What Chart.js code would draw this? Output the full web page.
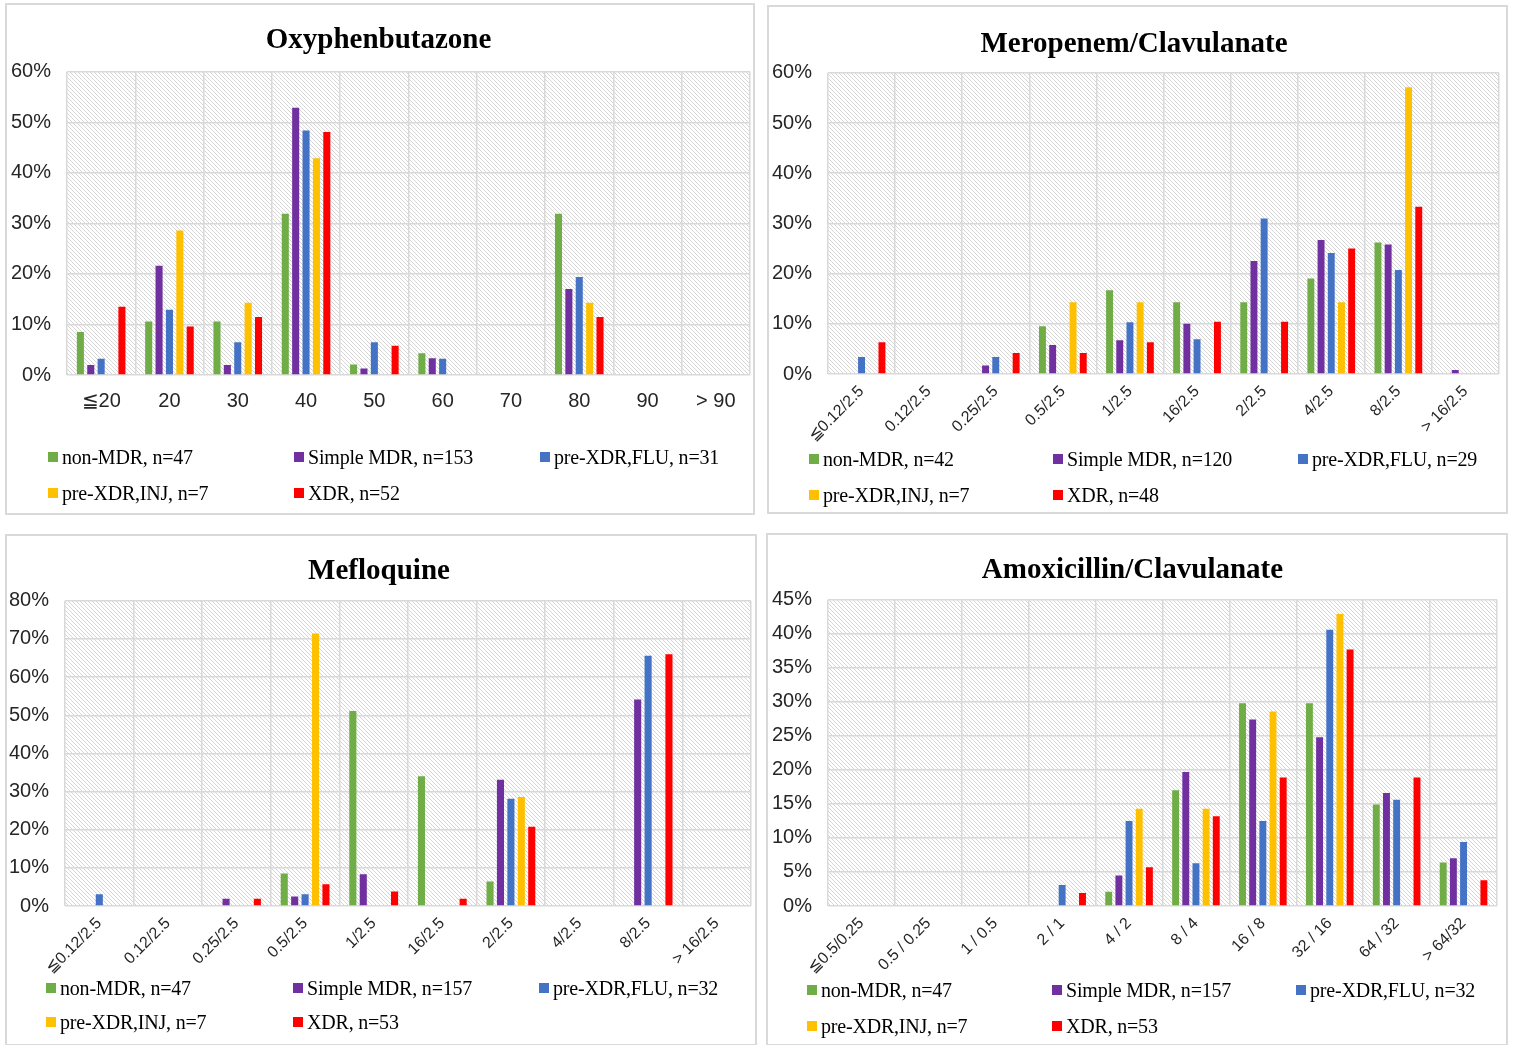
<!DOCTYPE html>
<html>
<head>
<meta charset="utf-8">
<script src="https://cdn.jsdelivr.net/npm/chart.js@4.4.1/dist/chart.umd.min.js"></script>
<style>
  html, body { margin: 0; padding: 0; background: #fff; }
  body { width: 1515px; height: 1045px; position: relative; overflow: hidden; }
  .panel { position: absolute; border: 2px solid #d9d9d9; box-sizing: border-box; background: #fff; }
  .panel canvas { position: absolute; left: 0; top: 0; }
  .leg { position: absolute; display: flex; align-items: center; height: 24px;
         font-family: "Liberation Serif", "Times New Roman", serif; font-size: 20px; color: #000; white-space: nowrap; letter-spacing: -0.2px; }
  .leg i { display: inline-block; width: 10px; height: 10px; margin-right: 4px; }
</style>
</head>
<body>
<script>
// ---------- DATA ----------
const seriesColors = ['#70ad47', '#7030a0', '#4472c4', '#ffc000', '#ff0000'];

const oxyTitle = 'Oxyphenbutazone';
const oxyCategories = ['≦20', '20', '30', '40', '50', '60', '70', '80', '90', '> 90'];
const oxySeriesNames = ['non-MDR, n=47', 'Simple MDR, n=153', 'pre-XDR,FLU, n=31', 'pre-XDR,INJ, n=7', 'XDR, n=52'];
const oxyNonMDR = [8.5, 10.6, 10.6, 31.9, 2.1, 4.3, 0, 31.9, 0, 0];
const oxySimple = [2.0, 21.6, 2.0, 52.9, 1.3, 3.3, 0, 17.0, 0, 0];
const oxyFLU    = [3.2, 12.9, 6.5, 48.4, 6.5, 3.2, 0, 19.4, 0, 0];
const oxyINJ    = [0, 28.6, 14.3, 42.9, 0, 0, 0, 14.3, 0, 0];
const oxyXDR    = [13.5, 9.6, 11.5, 48.1, 5.8, 0, 0, 11.5, 0, 0];
const oxyTicks  = { max: 60, step: 10 };

const meroTitle = 'Meropenem/Clavulanate';
const meroCategories = ['≦0.12/2.5', '0.12/2.5', '0.25/2.5', '0.5/2.5', '1/2.5', '16/2.5', '2/2.5', '4/2.5', '8/2.5', '> 16/2.5'];
const meroSeriesNames = ['non-MDR, n=42', 'Simple MDR, n=120', 'pre-XDR,FLU, n=29', 'pre-XDR,INJ, n=7', 'XDR, n=48'];
const meroNonMDR = [0, 0, 0, 9.5, 16.7, 14.3, 14.3, 19.0, 26.2, 0];
const meroSimple = [0, 0, 1.7, 5.8, 6.7, 10.0, 22.5, 26.7, 25.8, 0.8];
const meroFLU    = [3.4, 0, 3.4, 0, 10.3, 6.9, 31.0, 24.1, 20.7, 0];
const meroINJ    = [0, 0, 0, 14.3, 14.3, 0, 0, 14.3, 57.1, 0];
const meroXDR    = [6.3, 0, 4.2, 4.2, 6.3, 10.4, 10.4, 25.0, 33.3, 0];
const meroTicks  = { max: 60, step: 10 };

const mefTitle = 'Mefloquine';
const mefCategories = ['≦0.12/2.5', '0.12/2.5', '0.25/2.5', '0.5/2.5', '1/2.5', '16/2.5', '2/2.5', '4/2.5', '8/2.5', '> 16/2.5'];
const mefSeriesNames = ['non-MDR, n=47', 'Simple MDR, n=157', 'pre-XDR,FLU, n=32', 'pre-XDR,INJ, n=7', 'XDR, n=53'];
const mefNonMDR = [0, 0, 0, 8.5, 51.1, 34.0, 6.4, 0, 0, 0];
const mefSimple = [0, 0, 1.9, 2.5, 8.3, 0, 33.1, 0, 54.1, 0];
const mefFLU    = [3.1, 0, 0, 3.1, 0, 0, 28.1, 0, 65.6, 0];
const mefINJ    = [0, 0, 0, 71.4, 0, 0, 28.6, 0, 0, 0];
const mefXDR    = [0, 0, 1.9, 5.7, 3.8, 1.9, 20.8, 0, 66.0, 0];
const mefTicks  = { max: 80, step: 10 };

const amxTitle = 'Amoxicillin/Clavulanate';
const amxCategories = ['≦0.5/0.25', '0.5 / 0.25', '1 / 0.5', '2 / 1', '4 / 2', '8 / 4', '16 / 8', '32 / 16', '64 / 32', '> 64/32'];
const amxSeriesNames = ['non-MDR, n=47', 'Simple MDR, n=157', 'pre-XDR,FLU, n=32', 'pre-XDR,INJ, n=7', 'XDR, n=53'];
const amxNonMDR = [0, 0, 0, 0, 2.1, 17.0, 29.8, 29.8, 14.9, 6.4];
const amxSimple = [0, 0, 0, 0, 4.5, 19.7, 27.4, 24.8, 16.6, 7.0];
const amxFLU    = [0, 0, 0, 3.1, 12.5, 6.3, 12.5, 40.6, 15.6, 9.4];
const amxINJ    = [0, 0, 0, 0, 14.3, 14.3, 28.6, 42.9, 0, 0];
const amxXDR    = [0, 0, 0, 1.9, 5.7, 13.2, 18.9, 37.7, 18.9, 3.8];
const amxTicks  = { max: 45, step: 5 };

// ---------- LAYOUT ----------
const panels = [
  { title: oxyTitle, cats: oxyCategories, names: oxySeriesNames, series: [oxyNonMDR, oxySimple, oxyFLU, oxyINJ, oxyXDR], ticks: oxyTicks,
    box: [5, 3, 750, 512], yw: 60, rp: 3, rot: 0, tpad: [18, 14], legCols: [41, 287, 533], legRows: [452, 488] },
  { title: meroTitle, cats: meroCategories, names: meroSeriesNames, series: [meroNonMDR, meroSimple, meroFLU, meroINJ, meroXDR], ticks: meroTicks,
    box: [767, 5, 741, 509], yw: 59, rp: 7, rot: 45, tpad: [20, 11], legCols: [40, 284, 529], legRows: [452, 488] },
  { title: mefTitle, cats: mefCategories, names: mefSeriesNames, series: [mefNonMDR, mefSimple, mefFLU, mefINJ, mefXDR], ticks: mefTicks,
    box: [5, 534, 752, 512], yw: 58, rp: 4, rot: 45, tpad: [18, 12], legCols: [39, 286, 532], legRows: [452, 486] },
  { title: amxTitle, cats: amxCategories, names: amxSeriesNames, series: [amxNonMDR, amxSimple, amxFLU, amxINJ, amxXDR], ticks: amxTicks,
    box: [766, 533, 742, 513], yw: 60, rp: 9, rot: 45, tpad: [18, 12], legCols: [39, 284, 528], legRows: [455, 491] }
];

function makeHatch() {
  const s = 4;
  const c = document.createElement('canvas');
  c.width = s; c.height = s;
  const g = c.getContext('2d');
  g.fillStyle = '#ffffff';
  g.fillRect(0, 0, s, s);
  g.strokeStyle = '#d6d6d6';
  g.lineWidth = 1;
  g.beginPath();
  g.moveTo(-1, -1); g.lineTo(s + 1, s + 1);
  g.moveTo(-1, s - 1); g.lineTo(1, s + 1);
  g.moveTo(s - 1, -1); g.lineTo(s + 1, 1);
  g.stroke();
  return c;
}
const hatchCanvas = makeHatch();

const hatchPlugin = {
  id: 'hatch',
  beforeDraw(chart) {
    const a = chart.chartArea;
    const ctx = chart.ctx;
    ctx.save();
    ctx.fillStyle = ctx.createPattern(hatchCanvas, 'repeat');
    ctx.fillRect(a.left, a.top, a.right - a.left, a.bottom - a.top);
    ctx.restore();
  }
};

const tickFont = { family: '"Liberation Sans", Arial, sans-serif', size: 20 };
const rotFont = { family: '"Liberation Sans", Arial, sans-serif', size: 16 };

panels.forEach(p => {
  const [L, T, W, H] = p.box;
  const div = document.createElement('div');
  div.className = 'panel';
  div.style.left = L + 'px'; div.style.top = T + 'px';
  div.style.width = W + 'px'; div.style.height = H + 'px';
  document.body.appendChild(div);
  const cw = W - 4, ch = H - 4;
  const cv = document.createElement('canvas');
  cv.width = cw; cv.height = ch;
  cv.style.width = cw + 'px'; cv.style.height = ch + 'px';
  div.appendChild(cv);

  new Chart(cv, {
    type: 'bar',
    data: {
      labels: p.cats,
      datasets: p.series.map((d, i) => ({
        label: p.names[i],
        data: d,
        backgroundColor: seriesColors[i],
        borderWidth: 0,
        categoryPercentage: 0.76,
        barPercentage: 0.68
      }))
    },
    options: {
      responsive: false,
      animation: false,
      devicePixelRatio: 1,
      layout: { padding: { left: 0, right: p.rp, top: 0, bottom: 0 } },
      plugins: {
        legend: { display: false },
        tooltip: { enabled: false },
        title: {
          display: true, text: p.title, color: '#000',
          font: { family: '"Liberation Serif", "Times New Roman", serif', size: 29, weight: 'bold' },
          padding: { top: p.tpad[0], bottom: p.tpad[1] }
        }
      },
      scales: {
        x: {
          grid: { color: '#d9d9d9', lineWidth: 1.5, drawTicks: false, offset: true },
          border: { display: false },
          ticks: {
            autoSkip: false,
            maxRotation: p.rot, minRotation: p.rot,
            color: '#262626',
            font: p.rot ? rotFont : tickFont,
            padding: p.rot ? 8 : 14
          },
          afterFit: s => { s.height = 138; }
        },
        y: {
          min: 0, max: p.ticks.max,
          grid: { color: '#d9d9d9', lineWidth: 1.5, drawTicks: false },
          border: { display: false },
          ticks: {
            stepSize: p.ticks.step,
            color: '#262626',
            font: tickFont,
            padding: 16,
            callback: v => v + '%'
          },
          afterFit: s => { s.width = p.yw; }
        }
      }
    },
    plugins: [hatchPlugin]
  });

  p.names.forEach((n, i) => {
    const row = i < 3 ? 0 : 1;
    const col = i < 3 ? i : i - 3;
    const el = document.createElement('div');
    el.className = 'leg';
    el.style.left = p.legCols[col] + 'px';
    el.style.top = (p.legRows[row] - 12) + 'px';
    const sw = document.createElement('i');
    sw.style.background = seriesColors[i];
    el.appendChild(sw);
    el.appendChild(document.createTextNode(n));
    div.appendChild(el);
  });
});
</script>
</body>
</html>
